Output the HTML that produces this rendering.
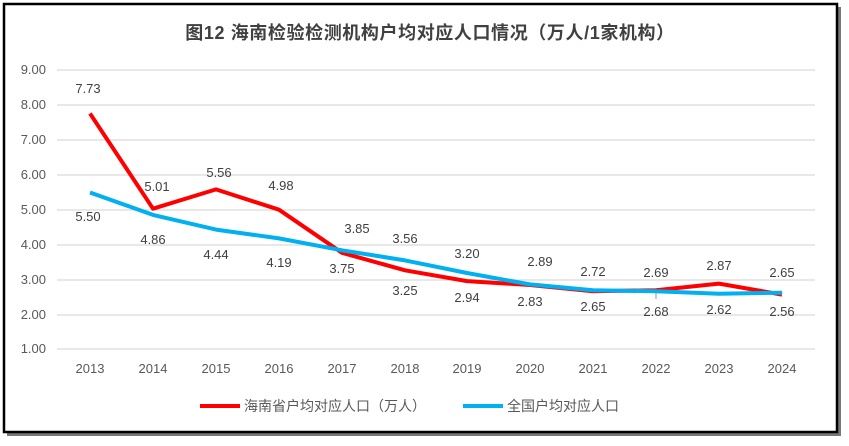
<!DOCTYPE html>
<html><head><meta charset="utf-8"><style>
html,body{margin:0;padding:0;background:#fff;width:849px;height:446px;overflow:hidden}
svg{display:block;font-family:"Liberation Sans","Noto Sans CJK SC",sans-serif}
</style></head><body>
<svg width="849" height="446" viewBox="0 0 849 446">
<rect x="7" y="7" width="834" height="429" fill="#777"/>
<rect x="4" y="4" width="833" height="428" fill="#fff" stroke="#000" stroke-width="2.5"/>
<text x="430" y="39" text-anchor="middle" font-size="18" font-weight="bold" fill="#404040" letter-spacing="0.6">图12  海南检验检测机构户均对应人口情况（万人/1家机构）</text>
<g stroke="#d9d9d9" stroke-width="1.2">
<line x1="57" x2="815" y1="70" y2="70"/><line x1="57" x2="815" y1="105" y2="105"/>
<line x1="57" x2="815" y1="140" y2="140"/><line x1="57" x2="815" y1="175" y2="175"/>
<line x1="57" x2="815" y1="210" y2="210"/><line x1="57" x2="815" y1="245" y2="245"/>
<line x1="57" x2="815" y1="280" y2="280"/><line x1="57" x2="815" y1="315" y2="315"/>
<line x1="57" x2="815" y1="349" y2="349"/>
</g>
<g font-size="13" fill="#595959" text-anchor="end">
<text x="46" y="74">9.00</text><text x="46" y="109">8.00</text><text x="46" y="144">7.00</text>
<text x="46" y="179">6.00</text><text x="46" y="214">5.00</text><text x="46" y="249">4.00</text>
<text x="46" y="284">3.00</text><text x="46" y="319">2.00</text><text x="46" y="353">1.00</text>
</g>
<g font-size="13" fill="#595959" text-anchor="middle">
<text x="90" y="373">2013</text><text x="153" y="373">2014</text><text x="216" y="373">2015</text>
<text x="279" y="373">2016</text><text x="342" y="373">2017</text><text x="405" y="373">2018</text>
<text x="467" y="373">2019</text><text x="530" y="373">2020</text><text x="593" y="373">2021</text>
<text x="656" y="373">2022</text><text x="719" y="373">2023</text><text x="782" y="373">2024</text>
</g>
<line x1="656" y1="290" x2="656" y2="299" stroke="#a6a6a6" stroke-width="1.2"/>
<polyline fill="none" stroke="#ff0000" stroke-width="4" stroke-linejoin="round" points="90,113.5 153,208.7 216,189.4 279,209.7 342,252.8 405,270.3 467,281.1 530,285 593,291.3 656,290.2 719,283.6 782,294.6"/>
<polyline fill="none" stroke="#00b0f0" stroke-width="4" stroke-linejoin="round" points="90,192.5 153,214.9 216,229.6 279,238.4 342,250.3 405,260.4 467,273 530,284.4 593,290.2 656,291.3 719,293.8 782,292.7"/>
<g font-size="13" fill="#404040" text-anchor="middle">
<text x="88" y="93">7.73</text><text x="157" y="191">5.01</text><text x="219" y="177">5.56</text>
<text x="281" y="190">4.98</text><text x="342" y="273">3.75</text><text x="405" y="295">3.25</text>
<text x="467" y="302">2.94</text><text x="530" y="306">2.83</text><text x="593" y="311">2.65</text>
<text x="656" y="316">2.68</text><text x="719" y="270">2.87</text>
<text x="782" y="316">2.56</text>
<text x="88" y="221">5.50</text><text x="153" y="244">4.86</text><text x="216" y="259">4.44</text>
<text x="279" y="267">4.19</text><text x="357" y="233">3.85</text><text x="405" y="243">3.56</text>
<text x="467" y="258">3.20</text><text x="540" y="266">2.89</text><text x="593" y="276">2.72</text>
<text x="656" y="277">2.69</text><text x="719" y="314">2.62</text><text x="782" y="277">2.65</text>
</g>
<line x1="200" y1="406" x2="240" y2="406" stroke="#ff0000" stroke-width="4"/>
<text x="244" y="411" font-size="14" fill="#595959">海南省户均对应人口（万人）</text>
<line x1="463" y1="406" x2="503" y2="406" stroke="#00b0f0" stroke-width="4"/>
<text x="507" y="411" font-size="14" fill="#595959">全国户均对应人口</text>
</svg>
</body></html>
